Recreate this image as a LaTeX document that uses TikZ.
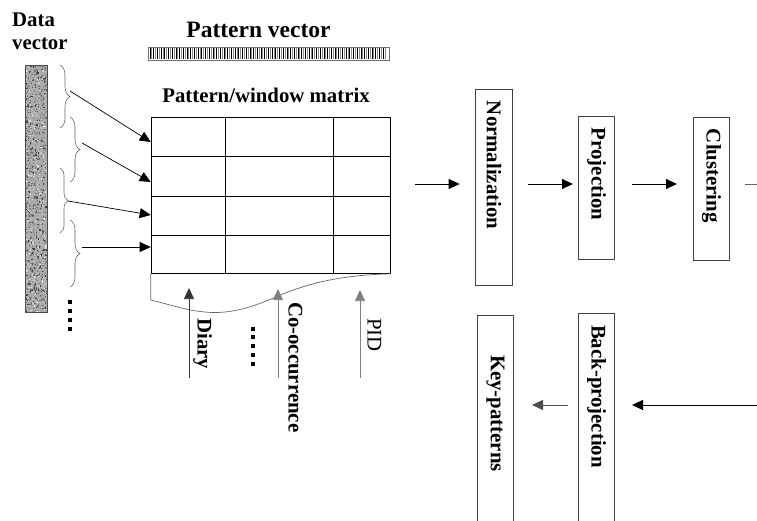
\documentclass[tikz,border=0pt]{standalone}
\usepackage{fontspec}
\setmainfont{Liberation Serif}
\usetikzlibrary{arrows.meta,decorations.pathreplacing}
\begin{document}
\begin{tikzpicture}[x=1pt,y=-1pt,
  lbl/.style={font=\fontsize{20.8}{23}\selectfont\bfseries, inner sep=0pt},
  vlbl/.style={lbl, rotate=-90, anchor=west},
  stage/.style={draw=black!75, line width=0.7pt, rotate=-90,
    font=\fontsize{20.8}{23}\selectfont\bfseries,
    minimum height=36.3pt, inner xsep=12pt, inner ysep=0pt, align=left},
  arr/.style={-{Triangle[length=11pt,width=10pt]}, line width=0.8pt},
  feed/.style={-{Triangle[length=11pt,width=10pt]}, line width=0.7pt},
  brc/.style={decorate, draw=black!60, line width=0.6pt},
  grid/.style={line width=0.8pt},
  dotmark/.style={fill=black}]
\useasboundingbox (0,0) rectangle (757,521);
\clip (0,0) rectangle (757,521);

% ---------- data vector column ----------
\node[lbl, align=left, anchor=north west] (dlabel) at (12,13) {Data\\vector};
\fill[black!33] (25,65) rectangle (47,312);
\pgfmathsetseed{17}
\foreach \i in {1,...,1500}{
  \pgfmathsetmacro\px{25+20.8*rnd}
  \pgfmathsetmacro\py{65+245.8*rnd}
  \pgfmathsetmacro\sh{int(8+72*rnd)}
  \fill[black!\sh] (\px,\py) rectangle ++(1.2,1.2);
}
\draw[black!70, line width=0.7pt] (25,65) rectangle (47,312);
\foreach \y in {302,311,320,329}
  \fill[dotmark] (68,\y-2) rectangle (72,\y+2);

% ---------- braces grouping the windows ----------
\draw[brc, decoration={brace, amplitude=10pt}] (60,65) -- (60,128);
\draw[brc, decoration={brace, amplitude=10pt}] (70,117) -- (70,182);
\draw[brc, decoration={brace, amplitude=8pt}] (60,168) -- (60,233);
\draw[brc, decoration={brace, amplitude=10pt}] (70,220) -- (70,287);
\coordinate (b1) at (70,91);
\coordinate (b2) at (82,143);
\coordinate (b3) at (68,201);
\coordinate (b4) at (82,247);

% ---------- pattern vector ----------
\node[lbl, font=\fontsize{23.5}{26}\selectfont\bfseries, anchor=base] (plabel) at (258.5,38) {Pattern vector};
\draw[black!55, fill=white, line width=0.7pt] (148,47) rectangle (389,60);
\foreach \i in {0,...,63}{
  \draw[black!45, line width=0.8pt] ({151.85+3.7*\i},48) -- ++(0,11);
  \draw[black, line width=0.8pt] ({150+3.7*\i},48) -- ++(0,11);
}

% ---------- pattern/window matrix ----------
\node[lbl, anchor=base] (mlabel) at (266,103) {Pattern/window matrix};
\node[draw, grid, minimum width=239.3pt, minimum height=156.3pt,
      anchor=north west, inner sep=0pt] (mat) at (150.7,116.7) {};
\foreach \y in {156.7,196,235}
  \draw[grid] (150.7,\y) -- (390,\y);
\foreach \x in {225.7,333}
  \draw[grid] (\x,116.7) -- (\x,273);
\draw[black!60, line width=0.7pt] (mat.south west) -- (150.7,300)
  .. controls (172,305) and (192,312.5) .. (215,312.5)
  .. controls (240,312.5) and (262,303) .. (283,294)
  .. controls (312,282) and (345,275) .. (mat.south east);

\coordinate (m1) at (150.7,142);
\coordinate (m2) at (150.7,182);
\coordinate (m3) at (150.7,215);
\coordinate (m4) at (150.7,247);
\draw[feed] (b1) -- (m1);
\draw[feed] (b2) -- (m2);
\draw[feed] (b3) -- (m3);
\draw[feed] (b4) -- (m4);

% ---------- feature sources ----------
\coordinate (d0) at (189,378);  \coordinate (d1) at (189,288);
\coordinate (c0) at (278,378);  \coordinate (c1) at (278,289);
\coordinate (p0) at (360,378);  \coordinate (p1) at (360,290);
\draw[feed, draw=black!80] (d0) -- (d1);
\draw[feed, draw=black!50] (c0) -- (c1);
\draw[feed, draw=black!50] (p0) -- (p1);
\node[vlbl] (diary) at (202.5,318) {Diary};
\node[vlbl] (cooc) at (295.5,302) {Co-occurrence};
\node[vlbl, font=\fontsize{20.8}{23}\selectfont\mdseries] (pid) at (374.5,318) {PID};
\foreach \k in {0,...,4}
  \fill[dotmark] (251.3,{326.5+8.75*\k}) rectangle ++(4,4);

% ---------- processing stages ----------
\node[stage, text width=172pt] (norm) at (493.9,187) {Normalization};
\node[stage, text width=119pt] (proj) at (596.5,187.5) {Projection};
\node[stage, text width=119pt] (clus) at (711.5,188.5) {Clustering};
\node[stage, text width=226pt] (backp) at (596.5,438) {Back-projection};
\node[stage, inner xsep=40pt, text width=170pt] (keyp) at (495.5,440) {Key-patterns};

\coordinate (a0) at (415,184);
\coordinate (a1) at (757,184);
\coordinate (a2) at (757,405);
\draw[arr, shorten >=15.7pt] (a0) -- (a0 -| norm.south);
\draw[arr, shorten <=16pt, shorten >=5pt] (norm.north |- a0) -- (proj.south |- a0);
\draw[arr, shorten <=17pt, shorten >=16pt] (proj.north |- a0) -- (clus.south |- a0);
\draw[line width=0.8pt, black!60, shorten <=15pt] (clus.north |- a0) -- (a1);
\draw[arr, shorten >=17pt] (a2) -- (a2 -| backp.north);
\draw[arr, black!70, shorten <=10pt, shorten >=18pt] (a2 -| backp.south) -- (a2 -| keyp.north);
\end{tikzpicture}
\end{document}
